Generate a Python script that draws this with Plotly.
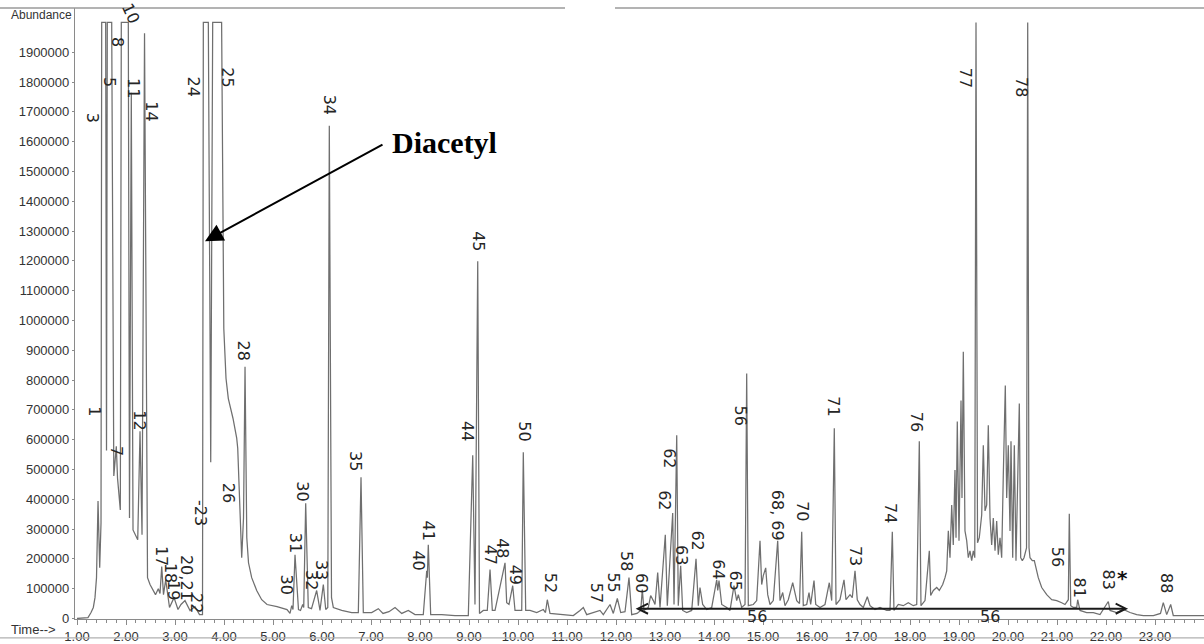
import plotly.graph_objects as go

# ---- total ion chromatogram: retention time (min) vs abundance ----
rt_min = [
    1.000, 1.224, 1.286, 1.333, 1.367, 1.398, 1.429, 1.463, 1.490, 1.504,
    1.585, 1.602, 1.618, 1.708, 1.751, 1.802, 1.827, 1.884, 1.904, 2.047,
    2.071, 2.108, 2.143, 2.239, 2.286, 2.327, 2.378, 2.439, 2.490, 2.551,
    2.602, 2.659, 2.694, 2.729, 2.765, 2.810, 2.888, 2.980, 3.061, 3.122,
    3.204, 3.306, 3.408, 3.500, 3.561, 3.578, 3.680, 3.729, 3.769, 3.951,
    3.969, 3.996, 4.041, 4.088, 4.184, 4.259, 4.280, 4.316, 4.361, 4.398,
    4.429, 4.465, 4.500, 4.565, 4.667, 4.769, 4.878, 5.082, 5.286, 5.347,
    5.382, 5.408, 5.449, 5.520, 5.561, 5.606, 5.627, 5.667, 5.720, 5.786,
    5.891, 5.959, 6.027, 6.076, 6.118, 6.149, 6.194, 6.231, 6.402, 6.606,
    6.741, 6.796, 6.843, 7.014, 7.149, 7.245, 7.367, 7.490, 7.627, 7.761,
    7.898, 8.067, 8.112, 8.137, 8.149, 8.169, 8.218, 8.443, 8.714, 8.986,
    9.076, 9.122, 9.178, 9.214, 9.292, 9.373, 9.429, 9.476, 9.531, 9.735,
    9.769, 9.816, 9.892, 9.939, 10.076, 10.108, 10.157, 10.245, 10.382, 10.516,
    10.561, 10.598, 10.653, 10.857, 11.129, 11.265, 11.333, 11.402, 11.537, 11.673,
    11.741, 11.878, 11.945, 12.027, 12.096, 12.184, 12.265, 12.320, 12.429, 12.504,
    12.537, 12.571, 12.659, 12.707, 12.761, 12.796, 12.851, 12.898, 13.006, 13.047,
    13.157, 13.184, 13.239, 13.271, 13.320, 13.361, 13.443, 13.545, 13.633, 13.680,
    13.714, 13.769, 13.851, 13.953, 14.055, 14.076, 14.102, 14.157, 14.259, 14.327,
    14.408, 14.463, 14.496, 14.565, 14.633, 14.667, 14.700, 14.802, 14.871, 14.939,
    14.973, 15.006, 15.055, 15.096, 15.143, 15.210, 15.300, 15.347, 15.402, 15.449,
    15.516, 15.606, 15.688, 15.745, 15.790, 15.822, 15.892, 15.939, 15.973, 16.041,
    16.076, 16.163, 16.265, 16.353, 16.402, 16.455, 16.490, 16.571, 16.653, 16.694,
    16.776, 16.822, 16.878, 16.924, 16.980, 17.047, 17.129, 17.184, 17.286, 17.388,
    17.524, 17.592, 17.639, 17.673, 17.761, 17.863, 17.965, 18.067, 18.137, 18.190,
    18.224, 18.306, 18.394, 18.422, 18.476, 18.545, 18.598, 18.667, 18.714, 18.749,
    18.782, 18.816, 18.851, 18.883, 18.918, 18.939, 18.965, 19.000, 19.041, 19.061,
    19.088, 19.122, 19.157, 19.190, 19.224, 19.259, 19.292, 19.322, 19.347, 19.378,
    19.414, 19.463, 19.496, 19.531, 19.565, 19.598, 19.633, 19.667, 19.700, 19.735,
    19.769, 19.802, 19.837, 19.871, 19.904, 19.924, 19.945, 19.973, 20.006, 20.041,
    20.061, 20.096, 20.129, 20.163, 20.198, 20.231, 20.259, 20.292, 20.327, 20.378,
    20.402, 20.429, 20.449, 20.496, 20.537, 20.571, 20.618, 20.688, 20.790, 20.892,
    20.994, 21.096, 21.163, 21.231, 21.251, 21.280, 21.333, 21.402, 21.422, 21.469,
    21.606, 21.741, 21.878, 22.047, 22.082, 22.218, 22.353, 22.490, 22.627, 22.763,
    22.967, 23.112, 23.169, 23.239, 23.320, 23.373, 23.510, 24.000,
]

abundance = [
    0, 3000, 20000, 37000, 70000, 137000, 394000, 170000, 321000, 2000000,
    2000000, 564000, 2000000, 2000000, 478000, 578000, 471000, 364000, 2000000, 2000000,
    337000, 1764000, 297000, 264000, 628000, 281000, 1964000, 137000, 114000, 94000,
    80000, 100000, 84000, 174000, 80000, 130000, 37000, 70000, 30000, 47000,
    60000, 27000, 40000, 13000, 13000, 2000000, 2000000, 524000, 2000000, 2000000,
    1406000, 972000, 805000, 738000, 671000, 605000, 571000, 371000, 204000, 337000,
    845000, 271000, 187000, 137000, 94000, 63000, 47000, 40000, 30000, 17000,
    43000, 30000, 214000, 30000, 27000, 47000, 37000, 387000, 37000, 33000,
    94000, 27000, 114000, 30000, 37000, 1653000, 70000, 37000, 27000, 20000,
    20000, 474000, 20000, 20000, 33000, 17000, 23000, 37000, 17000, 27000,
    13000, 13000, 120000, 160000, 137000, 247000, 13000, 13000, 10000, 10000,
    548000, 47000, 1199000, 17000, 27000, 27000, 164000, 27000, 27000, 187000,
    53000, 47000, 110000, 27000, 27000, 558000, 27000, 27000, 20000, 30000,
    20000, 63000, 17000, 13000, 10000, 27000, 37000, 13000, 20000, 27000,
    13000, 47000, 17000, 67000, 20000, 23000, 137000, 13000, 17000, 27000,
    97000, 27000, 37000, 77000, 60000, 47000, 154000, 37000, 281000, 43000,
    354000, 47000, 615000, 43000, 177000, 27000, 20000, 27000, 200000, 43000,
    104000, 47000, 30000, 37000, 130000, 94000, 127000, 47000, 37000, 27000,
    110000, 60000, 80000, 37000, 47000, 822000, 43000, 47000, 60000, 261000,
    114000, 144000, 170000, 80000, 47000, 60000, 261000, 60000, 87000, 43000,
    63000, 120000, 60000, 50000, 291000, 43000, 47000, 87000, 47000, 127000,
    47000, 37000, 47000, 120000, 60000, 638000, 47000, 63000, 130000, 63000,
    80000, 70000, 160000, 63000, 47000, 37000, 73000, 43000, 30000, 37000,
    27000, 27000, 291000, 27000, 47000, 43000, 53000, 43000, 47000, 595000,
    43000, 60000, 227000, 77000, 94000, 104000, 94000, 114000, 137000, 160000,
    294000, 204000, 381000, 247000, 498000, 271000, 661000, 261000, 731000, 404000,
    895000, 294000, 261000, 204000, 227000, 194000, 227000, 204000, 2000000, 254000,
    271000, 347000, 581000, 361000, 381000, 648000, 337000, 247000, 337000, 227000,
    327000, 214000, 271000, 204000, 481000, 605000, 782000, 404000, 581000, 294000,
    595000, 204000, 581000, 194000, 461000, 721000, 204000, 194000, 204000, 237000,
    2000000, 237000, 204000, 194000, 194000, 170000, 137000, 104000, 80000, 63000,
    60000, 53000, 47000, 63000, 351000, 43000, 37000, 37000, 63000, 27000,
    20000, 20000, 13000, 57000, 27000, 20000, 30000, 20000, 13000, 10000,
    10000, 17000, 53000, 13000, 47000, 10000, 10000, 10000,
]

# ---- hand-written peak numbers (text, rt, abundance at label centre) ----
peak_label_text = [
    "1", "3", "5", "8", "11", "7", "12", "14", "17", "18", "19", "20,21", "22",
    "-23", "24", "25", "26", "28", "30", "31", "30", "32", "33", "34", "35",
    "40", "41", "44", "45", "47", "48", "49", "50", "52", "57", "55", "58",
    "60", "62", "62", "63", "62", "64", "65", "56", "68, 69", "70", "71", "73",
    "74", "76", "77", "78", "56", "81", "83", "88",
]
peak_label_rt = [
    1.367, 1.306, 1.673, 1.837, 2.143, 1.806, 2.286, 2.520, 2.714, 2.912, 2.965, 3.239, 3.443,
    3.510, 3.373, 4.055, 4.108, 4.394, 5.265, 5.449, 5.586, 5.790, 5.994, 6.149, 6.694,
    7.965, 8.169, 8.965, 9.204, 9.429, 9.667, 9.939, 10.143, 10.653, 11.606, 11.945, 12.218,
    12.524, 13.000, 13.102, 13.341, 13.659, 14.088, 14.429, 14.531, 15.312, 15.790, 16.435, 16.878,
    17.592, 18.137, 19.122, 20.279, 21.000, 21.469, 22.047, 23.239,
]
peak_label_abund = [
    695000, 1680000, 1800000, 1934000, 1780000, 564000, 665000, 1700000, 210000, 154000, 94000, 137000, 53000,
    354000, 1784000, 1817000, 421000, 898000, 114000, 254000, 428000, 130000, 164000, 1723000, 528000,
    194000, 294000, 628000, 1266000, 214000, 237000, 147000, 628000, 120000, 87000, 120000, 194000,
    120000, 397000, 538000, 214000, 261000, 164000, 127000, 681000, 347000, 361000, 711000, 210000,
    354000, 661000, 1814000, 1784000, 207000, 104000, 130000, 120000,
]

# ---- axis ticks ----
y_tick_vals = [i * 100000 for i in range(20)]
y_tick_text = [str(v) for v in y_tick_vals]
x_tick_vals = list(range(1, 24))
x_tick_text = ["%d.00" % v for v in x_tick_vals]

# ---- marked range of compound 56 ----
range56_start = 12.37
range56_end = 22.45
range56_level = 33000
range56_tag_rt = [14.878, 19.633]
range56_tag_abund = [7000, 7000]

# ---- Diacetyl pointer ----
diacetyl_tip = (3.612, 1266000)
diacetyl_tail = (7.265, 1593000)
diacetyl_text_pos = (8.50, 1596000)

TRACE = "#6f6f6f"
INK = "#262626"
AXIS = "#8a8a8a"

fig = go.Figure()
fig.add_trace(go.Scatter(
    x=rt_min, y=abundance, mode="lines",
    line=dict(color=TRACE, width=1.25),
    hoverinfo="x+y", showlegend=False, cliponaxis=True,
))

annotations = []
for txt, rt, ab in zip(peak_label_text, peak_label_rt, peak_label_abund):
    annotations.append(dict(
        x=rt, y=ab, text=txt, showarrow=False, textangle=90,
        font=dict(family="DejaVu Sans", size=16, color=INK),
        xanchor="center", yanchor="middle",
    ))
# the "10" is written slanted at the very top
annotations.append(dict(x=2.102, y=2031000, text="10", showarrow=False, textangle=65,
                        font=dict(family="DejaVu Sans", size=16, color=INK)))
# asterisk marker next to 83
annotations.append(dict(x=22.339, y=137000, text="<b>*</b>", showarrow=False,
                        font=dict(family="DejaVu Sans", size=20, color="#111111")))

# Diacetyl callout
annotations.append(dict(
    x=diacetyl_tip[0], y=diacetyl_tip[1], ax=diacetyl_tail[0], ay=diacetyl_tail[1],
    axref="x", ayref="y", xref="x", yref="y", text="", showarrow=True,
    arrowhead=2, arrowsize=1.8, arrowwidth=2, arrowcolor="#000000",
))
annotations.append(dict(
    x=diacetyl_text_pos[0], y=diacetyl_text_pos[1], text="<b>Diacetyl</b>", showarrow=False,
    font=dict(family="Liberation Serif", size=30, color="#000000"),
    xanchor="center", yanchor="middle",
))

# double-headed range arrow with its tags
annotations.append(dict(
    x=range56_end, y=range56_level, ax=range56_start, ay=range56_level,
    axref="x", ayref="y", xref="x", yref="y", text="", showarrow=True,
    arrowside="end+start", arrowhead=5, startarrowhead=5,
    arrowsize=1.0, startarrowsize=1.0, arrowwidth=2, arrowcolor="#1a1a1a",
))
for rt, ab in zip(range56_tag_rt, range56_tag_abund):
    annotations.append(dict(x=rt, y=ab, text="56", showarrow=False,
                            font=dict(family="DejaVu Sans", size=16, color=INK)))

# axis captions
annotations.append(dict(x=0, y=1, xref="paper", yref="paper", text="Abundance",
                        showarrow=False, xanchor="right", yanchor="middle",
                        xshift=-1, yshift=-7,
                        font=dict(family="Liberation Sans", size=12, color="#333333")))
annotations.append(dict(x=0, y=0, xref="paper", yref="paper", text="Time-->",
                        showarrow=False, xanchor="right", yanchor="middle",
                        xshift=-17, yshift=-10,
                        font=dict(family="Liberation Sans", size=13, color="#333333")))

W_PLOT = 1129.0
H_PLOT = 614.0
shapes = [
    dict(type="line", xref="paper", yref="paper", x0=-75 / W_PLOT, x1=490 / W_PLOT,
         y0=1, y1=1, line=dict(color="#9a9a9a", width=1.5)),
    dict(type="line", xref="paper", yref="paper", x0=540 / W_PLOT, x1=1,
         y0=1, y1=1, line=dict(color="#9a9a9a", width=1.5)),
    dict(type="line", xref="paper", yref="paper", x0=-75 / W_PLOT, x1=1,
         y0=-19 / H_PLOT, y1=-19 / H_PLOT, line=dict(color="#b0b0b0", width=1.2)),
]

fig.update_layout(
    width=1204, height=644,
    margin=dict(l=75, r=0, t=8, b=22),
    paper_bgcolor="white", plot_bgcolor="white",
    showlegend=False,
    annotations=annotations,
    shapes=shapes,
    xaxis=dict(
        range=[0.959, 24.0], tickmode="array", tickvals=x_tick_vals, ticktext=x_tick_text,
        showline=True, linecolor=AXIS, linewidth=1.2, ticks="outside", ticklen=5,
        tickcolor=AXIS, showgrid=False, zeroline=False,
        tickfont=dict(family="Liberation Sans", size=13, color="#333333"),
        minor=dict(tick0=1, dtick=0.2, ticks="outside", ticklen=3, tickcolor=AXIS, showgrid=False),
    ),
    yaxis=dict(
        range=[-1700, 2048300], tickmode="array", tickvals=y_tick_vals, ticktext=y_tick_text,
        showline=True, linecolor=AXIS, linewidth=1.2, ticks="outside", ticklen=2,
        tickcolor=AXIS, showgrid=False, zeroline=False,
        tickfont=dict(family="Liberation Sans", size=13, color="#333333"),
    ),
)

fig.write_html("out.html")
